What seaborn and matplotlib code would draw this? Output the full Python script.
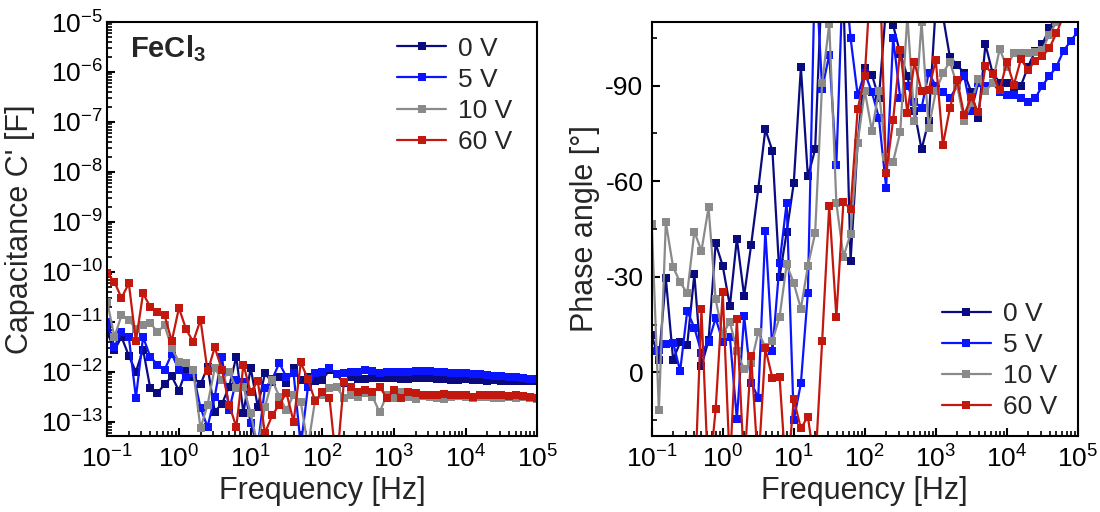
import numpy as np
import pandas as pd
import matplotlib
matplotlib.use("Agg")
import matplotlib.pyplot as plt
import seaborn as sns
from matplotlib.ticker import FixedLocator, LogLocator, MultipleLocator, NullFormatter

# ---------------- data ----------------
freq_hz = [0.1, 0.126, 0.158, 0.2, 0.251, 0.316, 0.398, 0.501, 0.631, 0.794,
           1, 1.26, 1.58, 2.0, 2.51, 3.16, 3.98, 5.01, 6.31, 7.94,
           10, 12.6, 15.8, 20, 25.1, 31.6, 39.8, 50.1, 63.1, 79.4,
           100, 126, 158, 200, 251, 316, 398, 501, 631, 794,
           1e3, 1.26e3, 1.58e3, 2e3, 2.51e3, 3.16e3, 3.98e3, 5.01e3, 6.31e3, 7.94e3,
           1e4, 1.26e4, 1.58e4, 2e4, 2.51e4, 3.16e4, 3.98e4, 5.01e4, 6.31e4, 7.94e4, 1e5]

labels = ["0 V", "5 V", "10 V", "60 V"]
colors = ["#0b0b80", "#0a14ff", "#8a8a8a", "#c3180e"]

x_ticks = [1e-1, 1e0, 1e1, 1e2, 1e3, 1e4, 1e5]
cap_ticks = [1e-13, 1e-12, 1e-11, 1e-10, 1e-9, 1e-8, 1e-7, 1e-6, 1e-5]
phase_ticks = [-90, -60, -30, 0]

cap_0V = [6.3e-12, 2.7e-12, 5.0e-12, 2.1e-12, 1.0e-12, 2.8e-12, 4.7e-13, 3.8e-13, 5.6e-13, 8.1e-13,
          4.2e-13, 1.1e-12, 7.9e-13, 5.6e-13, 1.26e-12, 1.6e-13, 2.3e-13, 5.0e-13, 2.0e-12, 1.5e-13,
          1.2e-12, 2.0e-13, 9.3e-13, 6.3e-13, 7.9e-13, 5.9e-13, 1.2e-12, 6.8e-13, 7.9e-13, 6.6e-13,
          6.8e-13, 1.1e-12, 8.9e-13, 5.9e-13, 7.9e-13, 7.1e-13, 7.1e-13, 7.4e-13, 7.4e-13, 7.6e-13,
          7.6e-13, 7.2e-13, 7.1e-13, 7.4e-13, 7.6e-13, 7.4e-13, 7.2e-13, 7.1e-13, 6.8e-13, 6.9e-13,
          7.1e-13, 6.9e-13, 6.8e-13, 6.6e-13, 6.8e-13, 6.6e-13, 6.6e-13, 6.5e-13, 6.5e-13, 6.6e-13, 6.6e-13]
cap_5V = [1.0e-11, 3.2e-12, 6.3e-12, 5.0e-12, 3.0e-13, 5.0e-12, 2.0e-12, 1.4e-12, 1.1e-12, 2.3e-12,
          1.07e-12, 7.9e-13, 9.3e-13, 1.9e-13, 7.9e-14, 3.2e-13, 2.0e-12, 1.7e-13, 6.8e-13, 6.3e-13,
          9.3e-14, 3.2e-14, 4.7e-13, 7.1e-13, 1.5e-12, 7.9e-13, 9.3e-13, 3.2e-14, 5.0e-13, 9.3e-13,
          1.0e-12, 1.2e-12, 8.9e-13, 9.3e-13, 1.0e-12, 1.0e-12, 1.1e-12, 1.05e-12, 9.5e-13, 9.8e-13,
          1.0e-12, 9.8e-13, 1.0e-12, 1.05e-12, 1.05e-12, 1.02e-12, 1.0e-12, 1.0e-12, 9.5e-13, 9.3e-13,
          9.3e-13, 9.1e-13, 8.9e-13, 8.5e-13, 8.3e-13, 8.1e-13, 7.9e-13, 7.8e-13, 7.6e-13, 7.2e-13, 7.1e-13]
cap_10V = [2.5e-11, 5.0e-12, 1.35e-11, 1.1e-11, 7.1e-12, 8.5e-12, 9.5e-12, 6.3e-12, 8.5e-12, 3.0e-12,
           1.6e-12, 1.5e-12, 1.07e-12, 7.4e-14, 2.2e-13, 1.2e-12, 6.8e-13, 1.0e-12, 4.7e-13, 5.0e-13,
           1.5e-13, 3.2e-14, 1.95e-13, 6.8e-13, 3.2e-13, 1.7e-13, 3.5e-13, 2.5e-13, 3.2e-14, 2.7e-13,
           3.5e-13, 4.7e-13, 5.0e-13, 3.0e-13, 3.4e-13, 3.2e-13, 3.7e-13, 3.2e-13, 1.55e-13, 3.5e-13,
           3.0e-13, 4.0e-13, 3.2e-13, 2.8e-13, 3.3e-13, 3.2e-13, 3.0e-13, 2.8e-13, 3.2e-13, 3.3e-13,
           3.2e-13, 3.0e-13, 3.2e-13, 3.2e-13, 3.0e-13, 3.0e-13, 3.2e-13, 3.0e-13, 3.2e-13, 3.0e-13, 2.8e-13]
cap_60V = [9.5e-11, 6.3e-11, 3.0e-11, 5.9e-11, 4.1e-12, 3.7e-11, 2.0e-11, 1.55e-11, 1.35e-11, 4.1e-12,
           1.9e-11, 7.1e-12, 4.0e-12, 1.1e-11, 1.02e-12, 3.1e-12, 1.1e-12, 2.2e-13, 7.9e-14, 1.4e-12,
           3.9e-13, 6.6e-13, 5.9e-14, 1.35e-13, 2.2e-13, 3.8e-13, 1.0e-13, 1.55e-12, 7.1e-13, 2.6e-13,
           3.9e-13, 3.0e-13, 1.3e-14, 6.3e-13, 4.9e-13, 4.0e-13, 4.3e-13, 4.0e-13, 5.0e-13, 3.0e-13,
           4.3e-13, 3.0e-13, 4.0e-13, 3.8e-13, 3.5e-13, 3.5e-13, 3.4e-13, 3.6e-13, 3.5e-13, 3.4e-13,
           3.5e-13, 3.2e-13, 3.5e-13, 3.4e-13, 3.5e-13, 3.4e-13, 3.3e-13, 3.4e-13, 3.3e-13, 3.2e-13, 3.0e-13]

phase_0V = [-11.7, -4, -29.5, -4, -9.4, -8.6, -30.8, -2, -10, -40.5,
            -33.4, -20.8, -42, -24, -40, -57.5, -76.3, -69.5, -30, -44,
            -59.4, -95.8, -61.5, -70, -125, -130, -125, -118, -35, -72,
            -95.5, -93.5, -86, -115, -109, -100, -93, -82, -70, -79,
            -115, -112, -99, -96.5, -94, -88, -80, -103, -94, -91,
            -91, -89, -90, -96, -101, -103, -108, -112, -115, -118, -120]
phase_5V = [-6.8, -7, -8.8, -9.3, -0.4, -19.3, -14, -6.2, -9.6, -17,
            -9.6, -11, 14.7, -17.7, 3.2, 8, -44.4, -6.7, -34.2, -53.3,
            15, 3.5, -25, -130, -89, -99.7, -65, -130, -105, -87,
            -94, -88, -80, -58, -105, -86, -90, -85, -83, -94,
            -90, -88, -86, -90, -93, -82, -91, -90, -91, -88,
            -87, -87, -86, -85, -86, -90, -93, -96, -101, -104, -107]
phase_10V = [-46.5, 11.8, -47.1, -33, -28.3, -24.8, -44.2, -38.1, -51.8, -22.9,
             -11.9, -15.9, -6.7, -0.9, -2.8, -12.6, -8, -9.9, -17.4, -33.9,
             -28, -20, -33.4, -43.7, -90.8, -109.4, -53.1, -36.3, -43.5, -72,
             -88.4, -75.8, -88.4, -67.5, -66.2, -75.4, -112, -78.9, -110, -76.6,
             -88.2, -93.9, -97.6, -90, -79, -84.5, -92, -88.2, -91, -101.5,
             -96, -100.2, -100.4, -100.2, -100.7, -101.3, -106, -110, -112, -115, -118]
phase_60V = [40, 35, 45, 30, 38, 32, 40, -19.8, 35, 11.6,
             -25.1, 30, -16.6, 30, -5.2, 30, -7.5, 1.9, 1.4, 35,
             8.5, 17.6, 13.9, 30, -9.7, -52.3, -17.5, -53.6, -51.2, -82.6,
             -92.9, -130, -135, -62.5, -79.3, -101.3, -81.4, -97.4, -88.2, -88.6,
             -98.1, -71.4, -82.9, -91.8, -80.8, -86.4, -81.6, -96.2, -93.7, -88.5,
             -97.4, -90.3, -98.3, -95, -97.8, -99.2, -101.8, -106.5, -112, -116, -120]

cap_series = [cap_0V, cap_5V, cap_10V, cap_60V]
phase_series = [phase_0V, phase_5V, phase_10V, phase_60V]

# ---------------- style ----------------
sns.set_theme(style="ticks")
plt.rcParams["font.family"] = ["Liberation Sans", "DejaVu Sans"]
plt.rcParams["axes.unicode_minus"] = False
plt.rcParams["mathtext.fontset"] = "custom"
plt.rcParams["mathtext.rm"] = "Liberation Sans"
plt.rcParams["mathtext.bf"] = "Liberation Sans:bold"
plt.rcParams["mathtext.it"] = "Liberation Sans:italic"
plt.rcParams["mathtext.default"] = "regular"

fig = plt.figure(figsize=(11, 5.12), dpi=100)
ax1 = fig.add_axes([0.0975, 0.1484, 0.391, 0.8086])
ax2 = fig.add_axes([0.5925, 0.1484, 0.3873, 0.8086])

line_kw = dict(marker="s", markersize=5.8, markeredgewidth=0, linewidth=1.6,
               estimator=None, sort=False)

for vals, lab, col in zip(cap_series, labels, colors):
    sns.lineplot(x=freq_hz, y=vals, ax=ax1, color=col, label=lab, **line_kw)
for vals, lab, col in zip(phase_series, labels, colors):
    sns.lineplot(x=freq_hz, y=vals, ax=ax2, color=col, label=lab, **line_kw)

for ax in (ax1, ax2):
    ax.set_xscale("log")
    ax.set_xlim(0.1, 1e5)
    ax.xaxis.set_major_locator(FixedLocator(x_ticks))
    ax.xaxis.set_minor_locator(LogLocator(base=10, subs=np.arange(2, 10), numticks=100))
    ax.xaxis.set_minor_formatter(NullFormatter())
    for s in ax.spines.values():
        s.set_linewidth(1.5)
        s.set_color("black")
    ax.tick_params(which="both", direction="in", top=False, right=False,
                   labelsize=19, colors="black")
    ax.tick_params(which="major", length=6, width=1.5)
    ax.tick_params(which="minor", length=3.5, width=1.2)
    ax.tick_params(axis="x", which="both", pad=7)
    ax.set_xlabel("Frequency [Hz]", fontsize=22, labelpad=2)

ax1.set_yscale("log")
ax1.set_ylim(5.2e-14, 1e-5)
ax1.yaxis.set_major_locator(FixedLocator(cap_ticks))
ax1.yaxis.set_minor_locator(LogLocator(base=10, subs=np.arange(2, 10), numticks=200))
ax1.yaxis.set_minor_formatter(NullFormatter())
ax1.tick_params(axis="y", which="both", pad=3)
ax1.set_ylabel("Capacitance C' [F]", fontsize=22, labelpad=4)
ax1.text(0.053, 0.915, r"FeCl$_\mathbf{3}$", transform=ax1.transAxes,
         fontsize=21, fontweight="bold", va="baseline", ha="left")

ax2.set_ylim(20, -110)
ax2.yaxis.set_major_locator(FixedLocator(phase_ticks))
ax2.yaxis.set_minor_locator(MultipleLocator(15))
ax2.tick_params(axis="y", which="both", pad=6)
ax2.set_ylabel("Phase angle [°]", fontsize=22, labelpad=4)

leg_kw = dict(frameon=False, fontsize=19, handlelength=1.85, handletextpad=0.45,
              labelspacing=0.27, borderpad=0, borderaxespad=0, loc="upper left")
ax1.legend(bbox_to_anchor=(0.674, 0.965), **leg_kw)
ax2.legend(bbox_to_anchor=(0.681, 0.324), **leg_kw)

fig.savefig("out.png", dpi=100)
